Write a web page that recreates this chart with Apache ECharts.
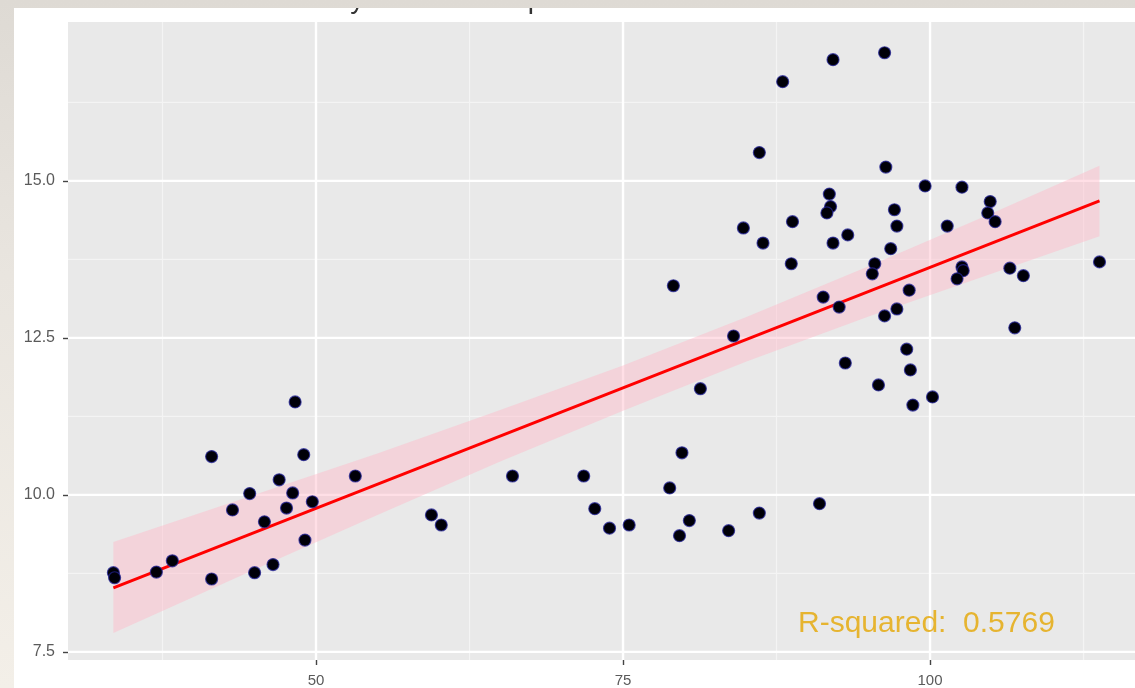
<!DOCTYPE html>
<html>
<head>
<meta charset="utf-8">
<script src="https://cdn.jsdelivr.net/npm/echarts@6/dist/echarts.min.js"></script>
<style>
  html, body { margin: 0; padding: 0; width: 1135px; height: 688px; overflow: hidden;
    background: linear-gradient(180deg, #dedad4 0%, #e9e5df 40%, #f3efe8 100%); }
  #card { position: absolute; left: 14px; top: 8px; width: 1121px; height: 680px; background: #ffffff; overflow: hidden; }
  #chart { width: 1121px; height: 680px; }
</style>
</head>
<body>
<div id="card"><div id="chart"></div></div>
<script>
// ---- data ----
const xs = [33.5, 33.6, 37.0, 38.3, 41.5, 41.5, 43.2, 44.6, 45.0, 45.8, 46.5, 47.0, 47.6, 48.1, 48.3, 49.0, 49.1, 49.7, 53.2, 59.4, 60.2,
  66.0, 71.8, 72.7, 73.9, 75.5, 78.8, 79.1, 79.6, 79.8, 80.4, 81.3, 83.6, 84.0, 86.1, 91.0, 86.1,
  84.8, 86.4, 88.0, 88.8, 88.7, 91.8, 91.9, 91.6, 92.1, 93.3, 92.1, 91.3, 92.6, 93.1, 95.5, 95.3, 96.3, 96.4, 96.8, 97.1,
  97.3, 96.3, 97.3, 98.3, 98.1, 98.4, 95.8, 98.6, 100.2, 99.6, 101.4, 102.6, 102.6, 102.7, 102.2, 104.9, 104.7, 105.3,
  106.5, 107.6, 106.9, 113.8];
const ys = [8.76, 8.68, 8.77, 8.95, 10.61, 8.66, 9.76, 10.02, 8.76, 9.57, 8.89, 10.24, 9.79, 10.03, 11.48, 10.64, 9.28, 9.89, 10.30, 9.68, 9.52,
  10.30, 10.30, 9.78, 9.47, 9.52, 10.11, 13.33, 9.35, 10.67, 9.59, 11.69, 9.43, 12.53, 9.71, 9.86, 15.45,
  14.25, 14.01, 16.58, 14.35, 13.68, 14.79, 14.59, 14.49, 14.01, 14.14, 16.93, 13.15, 12.99, 12.10, 13.68, 13.52, 17.04, 15.22, 13.92, 14.54,
  14.28, 12.85, 12.96, 13.26, 12.32, 11.99, 11.75, 11.43, 11.56, 14.92, 14.28, 14.90, 13.63, 13.57, 13.44, 14.67, 14.49, 14.35,
  13.61, 13.49, 12.66, 13.71];
const fitX = [33.5, 113.8];
const fitY = [8.52, 14.68];
const bandX = [33.5, 45, 55, 65, 75, 85, 95, 105, 113.8];
const bandLow = [7.80, 8.81, 9.68, 10.53, 11.34, 12.12, 12.84, 13.52, 14.12];
const bandHigh = [9.25, 10.00, 10.66, 11.35, 12.06, 12.83, 13.64, 14.48, 15.24];
const xTicks = [50, 75, 100];
const yTicks = [7.5, 10, 12.5, 15];
const xMinor = [37.5, 62.5, 87.5, 112.5];
const yMinor = [8.75, 11.25, 13.75, 16.25];
const titleText = 'Soybean futures prices vs. WTI crude oil futures';
const noteText = 'R-squared:  0.5769';

// ---- chart ----
const chart = echarts.init(document.getElementById('chart'), null, { renderer: 'canvas' });
const FONT = '"Liberation Sans", Arial, sans-serif';

function gridLine(vertical, major) {
  return function (params, api) {
    const cs = params.coordSys;
    const v = api.value(vertical ? 0 : 1);
    const st = { stroke: major ? '#ffffff' : '#f4f4f4', lineWidth: major ? 2.4 : 1.2 };
    if (vertical) {
      const x = api.coord([v, 10])[0];
      return { type: 'line', shape: { x1: x, y1: cs.y, x2: x, y2: cs.y + cs.height }, style: st };
    }
    const y = api.coord([50, v])[1];
    return { type: 'line', shape: { x1: cs.x, y1: y, x2: cs.x + cs.width, y2: y }, style: st };
  };
}

const option = {
  animation: false,
  backgroundColor: '#ffffff',
  grid: { left: 54, top: 14, right: 0, bottom: 28, show: true, backgroundColor: '#e9e9e9', borderWidth: 0 },
  xAxis: {
    type: 'value', min: 29.805, max: 116.69,
    axisLine: { show: false },
    axisTick: { show: true, length: 5, lineStyle: { color: '#444444', width: 1.4 }, customValues: xTicks },
    axisLabel: { customValues: xTicks, color: '#5a5a5a', fontSize: 15, fontFamily: FONT, margin: 13 },
    splitLine: { show: false }
  },
  yAxis: {
    type: 'value', min: 7.37, max: 17.53,
    axisLine: { show: false },
    axisTick: { show: true, length: 5, lineStyle: { color: '#444444', width: 1.4 }, customValues: yTicks },
    axisLabel: { customValues: yTicks, color: '#5a5a5a', fontSize: 16, fontFamily: FONT, margin: 13,
      formatter: function (v) { return Number(v).toFixed(1); } },
    splitLine: { show: false }
  },
  graphic: [
    { type: 'text', x: 600, y: -8, z: 100, silent: true,
      style: { text: titleText, fill: '#333333', font: '28px ' + FONT, align: 'center', verticalAlign: 'middle', textAlign: 'center', textVerticalAlign: 'middle' } },
    { type: 'text', x: 784, y: 616, z: 100, silent: true,
      style: { text: noteText, fill: '#e6b430', font: '30px ' + FONT, align: 'left', verticalAlign: 'middle', textAlign: 'left', textVerticalAlign: 'middle' } }
  ],
  series: [
    { type: 'custom', z: 1, silent: true, renderItem: gridLine(true, false), data: xMinor.map(v => [v, 10]), encode: { x: 0, y: 1 } },
    { type: 'custom', z: 1, silent: true, renderItem: gridLine(false, false), data: yMinor.map(v => [50, v]), encode: { x: 0, y: 1 } },
    { type: 'custom', z: 1, silent: true, renderItem: gridLine(true, true), data: xTicks.map(v => [v, 10]), encode: { x: 0, y: 1 } },
    { type: 'custom', z: 1, silent: true, renderItem: gridLine(false, true), data: yTicks.map(v => [50, v]), encode: { x: 0, y: 1 } },
    {
      type: 'custom', z: 2, silent: true,
      data: [[bandX[0], bandLow[0]]], encode: { x: 0, y: 1 },
      renderItem: function (params, api) {
        const pts = [];
        for (let i = 0; i < bandX.length; i++) pts.push(api.coord([bandX[i], bandHigh[i]]));
        for (let i = bandX.length - 1; i >= 0; i--) pts.push(api.coord([bandX[i], bandLow[i]]));
        return { type: 'polygon', shape: { points: pts }, style: { fill: 'rgba(255,185,200,0.45)' } };
      }
    },
    {
      type: 'line', z: 3, silent: true, showSymbol: false, symbol: 'none',
      data: fitX.map((x, i) => [x, fitY[i]]),
      lineStyle: { color: '#ff0000', width: 3 }
    },
    {
      type: 'scatter', z: 4, symbol: 'circle', symbolSize: 12,
      data: xs.map((x, i) => [x, ys[i]]),
      itemStyle: { color: '#000008', borderColor: 'rgba(35,35,150,0.75)', borderWidth: 1.2, opacity: 1 }
    }
  ]
};
chart.setOption(option);
</script>
</body>
</html>
